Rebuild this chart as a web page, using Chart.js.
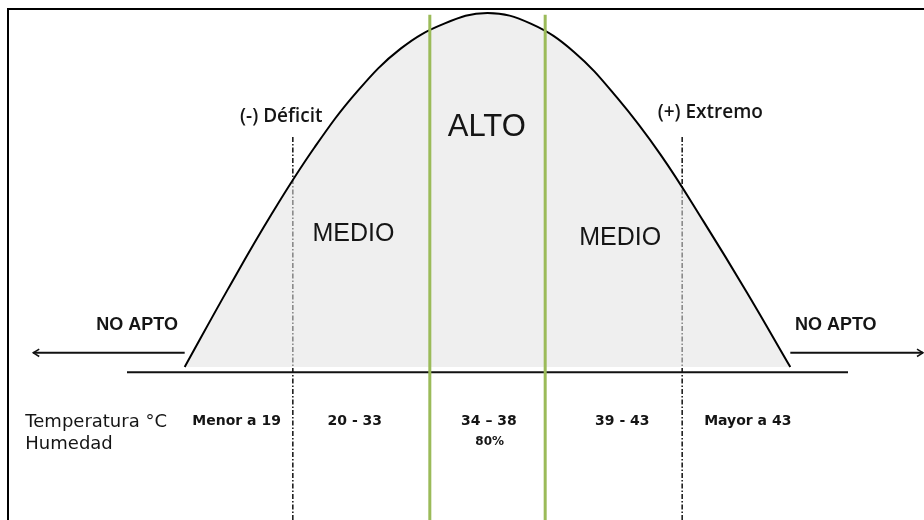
<!DOCTYPE html>
<html>
<head>
<meta charset="utf-8">
<script src="https://cdn.jsdelivr.net/npm/chart.js@4"></script>
<style>
  html, body { margin: 0; padding: 0; background: #fff; }
  canvas { display: block; }
</style>
</head>
<body>
<canvas id="bellChart" width="924" height="520"></canvas>
<script>
// curve: position on the tolerance scale (0-100) vs aptitude (0-100)
const curveX = [8, 14, 20, 26, 32, 38, 44, 50, 56, 62, 68, 74, 80, 86, 92];
const curveY = [0, 22, 43, 62, 78, 90, 97, 100, 97, 89, 76, 60, 41, 21, 0];

// zone limits on the same scale
const optimalLimits = [42, 58];     // green lines
const toleranceLimits = [23, 77];   // dotted lines

// text
const zoneNames = ['MEDIO', 'ALTO', 'MEDIO'];
const limitNames = ['(-) Déficit', '(+) Extremo'];
const outsideName = 'NO APTO';
const rowTitles = ['Temperatura °C', 'Humedad'];
const tempRanges = ['Menor a 19', '20 - 33', '34 – 38', '39 - 43', 'Mayor a 43'];
const humidityValues = ['', '', '80%', '', ''];

const lineTop = 99.5, lineBottom = -46, dottedTop = 65;
const baseY = -1.5, arrowY = 4;

function vline(x, top, color, width, dash) {
    return {
        data: [{ x: x, y: top }, { x: x, y: lineBottom }],
        borderColor: color, borderWidth: width, borderDash: dash || [],
        pointRadius: 0, fill: false, clip: false, tension: 0
    };
}

function hline(x0, x1, y, arrow) {
    return {
        data: [{ x: x0, y: y }, { x: x1, y: y }],
        borderColor: '#111', borderWidth: 2, pointRadius: 0,
        fill: false, clip: false, tension: 0, arrow: arrow
    };
}

const datasets = [
    vline(optimalLimits[0], lineTop, '#9bbb59', 3),
    vline(optimalLimits[1], lineTop, '#9bbb59', 3),
    {
        data: curveX.map((x, i) => ({ x: x, y: curveY[i] })),
        borderColor: '#000', borderWidth: 2, pointRadius: 0,
        backgroundColor: 'rgba(226,226,226,0.55)',
        fill: 'origin', tension: 0.4, clip: false
    },
    vline(toleranceLimits[0], dottedTop, '#111', 1.5, [5, 2, 1.5, 2]),
    vline(toleranceLimits[1], dottedTop, '#111', 1.5, [5, 2, 1.5, 2]),
    hline(0, 100, baseY, false),
    hline(8, -13, arrowY, true),
    hline(92, 110.4, arrowY, true)
];

// label placement, in scale units
const labels = [
    { text: outsideName, x: 1.4, y: 11.9, font: 'bold 18px "Liberation Sans", Arial' },
    { text: outsideName, x: 98.3, y: 11.9, font: 'bold 18px "Liberation Sans", Arial' },
    { text: limitNames[0], x: 21.4, y: 70.6, font: '600 19px "Open Sans"' },
    { text: limitNames[1], x: 80.9, y: 71.8, font: '600 19px "Open Sans"' },
    { text: zoneNames[0], x: 31.4, y: 37.6, font: '25px "Liberation Sans", Arial' },
    { text: zoneNames[1], x: 49.9, y: 67.8, font: '31px "Liberation Sans", Arial' },
    { text: zoneNames[2], x: 68.4, y: 36.4, font: '25px "Liberation Sans", Arial' },
    { text: rowTitles[0], x: -14.1, y: -15.5, font: '18px "DejaVu Sans"', align: 'left' },
    { text: rowTitles[1], x: -14.1, y: -21.8, font: '18px "DejaVu Sans"', align: 'left' }
];
const rangeX = [15.2, 31.6, 50.2, 68.7, 86.1];
tempRanges.forEach((t, i) => {
    labels.push({ text: t, x: rangeX[i], y: -15.3, font: 'bold 14px "DejaVu Sans"' });
    if (humidityValues[i]) {
        labels.push({ text: humidityValues[i], x: rangeX[i] + 0.1, y: -21.2, font: 'bold 12px "DejaVu Sans"' });
    }
});

const decorPlugin = {
    id: 'decor',
    beforeDraw(chart) {
        const ctx = chart.ctx;
        ctx.save();
        ctx.fillStyle = '#fff';
        ctx.fillRect(0, 0, chart.width, chart.height);
        ctx.strokeStyle = '#000';
        ctx.lineWidth = 2;
        ctx.strokeRect(8, 9, chart.width + 20, chart.height + 20);
        ctx.restore();
    },
    afterDatasetsDraw(chart) {
        const ctx = chart.ctx;
        const xs = chart.scales.x, ys = chart.scales.y;
        ctx.save();
        // arrow heads
        chart.data.datasets.forEach((ds, i) => {
            if (!ds.arrow) return;
            const pts = chart.getDatasetMeta(i).data;
            const a = pts[pts.length - 2], b = pts[pts.length - 1];
            const ang = Math.atan2(b.y - a.y, b.x - a.x);
            ctx.strokeStyle = '#111';
            ctx.lineWidth = 1.5;
            ctx.beginPath();
            ctx.moveTo(b.x - 7 * Math.cos(ang - 0.55), b.y - 7 * Math.sin(ang - 0.55));
            ctx.lineTo(b.x, b.y);
            ctx.lineTo(b.x - 7 * Math.cos(ang + 0.55), b.y - 7 * Math.sin(ang + 0.55));
            ctx.stroke();
        });
        // texts
        ctx.fillStyle = '#151515';
        ctx.textBaseline = 'middle';
        labels.forEach(l => {
            ctx.font = l.font;
            ctx.textAlign = l.align || 'center';
            ctx.fillText(l.text, xs.getPixelForValue(l.x), ys.getPixelForValue(l.y));
        });
        ctx.restore();
    }
};

new Chart(document.getElementById('bellChart').getContext('2d'), {
    type: 'line',
    data: { datasets: datasets },
    options: {
        responsive: false,
        animation: false,
        layout: { padding: { left: 127, right: 76, top: 13, bottom: 153 } },
        plugins: { legend: { display: false }, tooltip: { enabled: false } },
        scales: {
            x: { type: 'linear', min: 0, max: 100, display: false },
            y: { min: 0, max: 100, display: false }
        }
    },
    plugins: [decorPlugin]
});
</script>
</body>
</html>
